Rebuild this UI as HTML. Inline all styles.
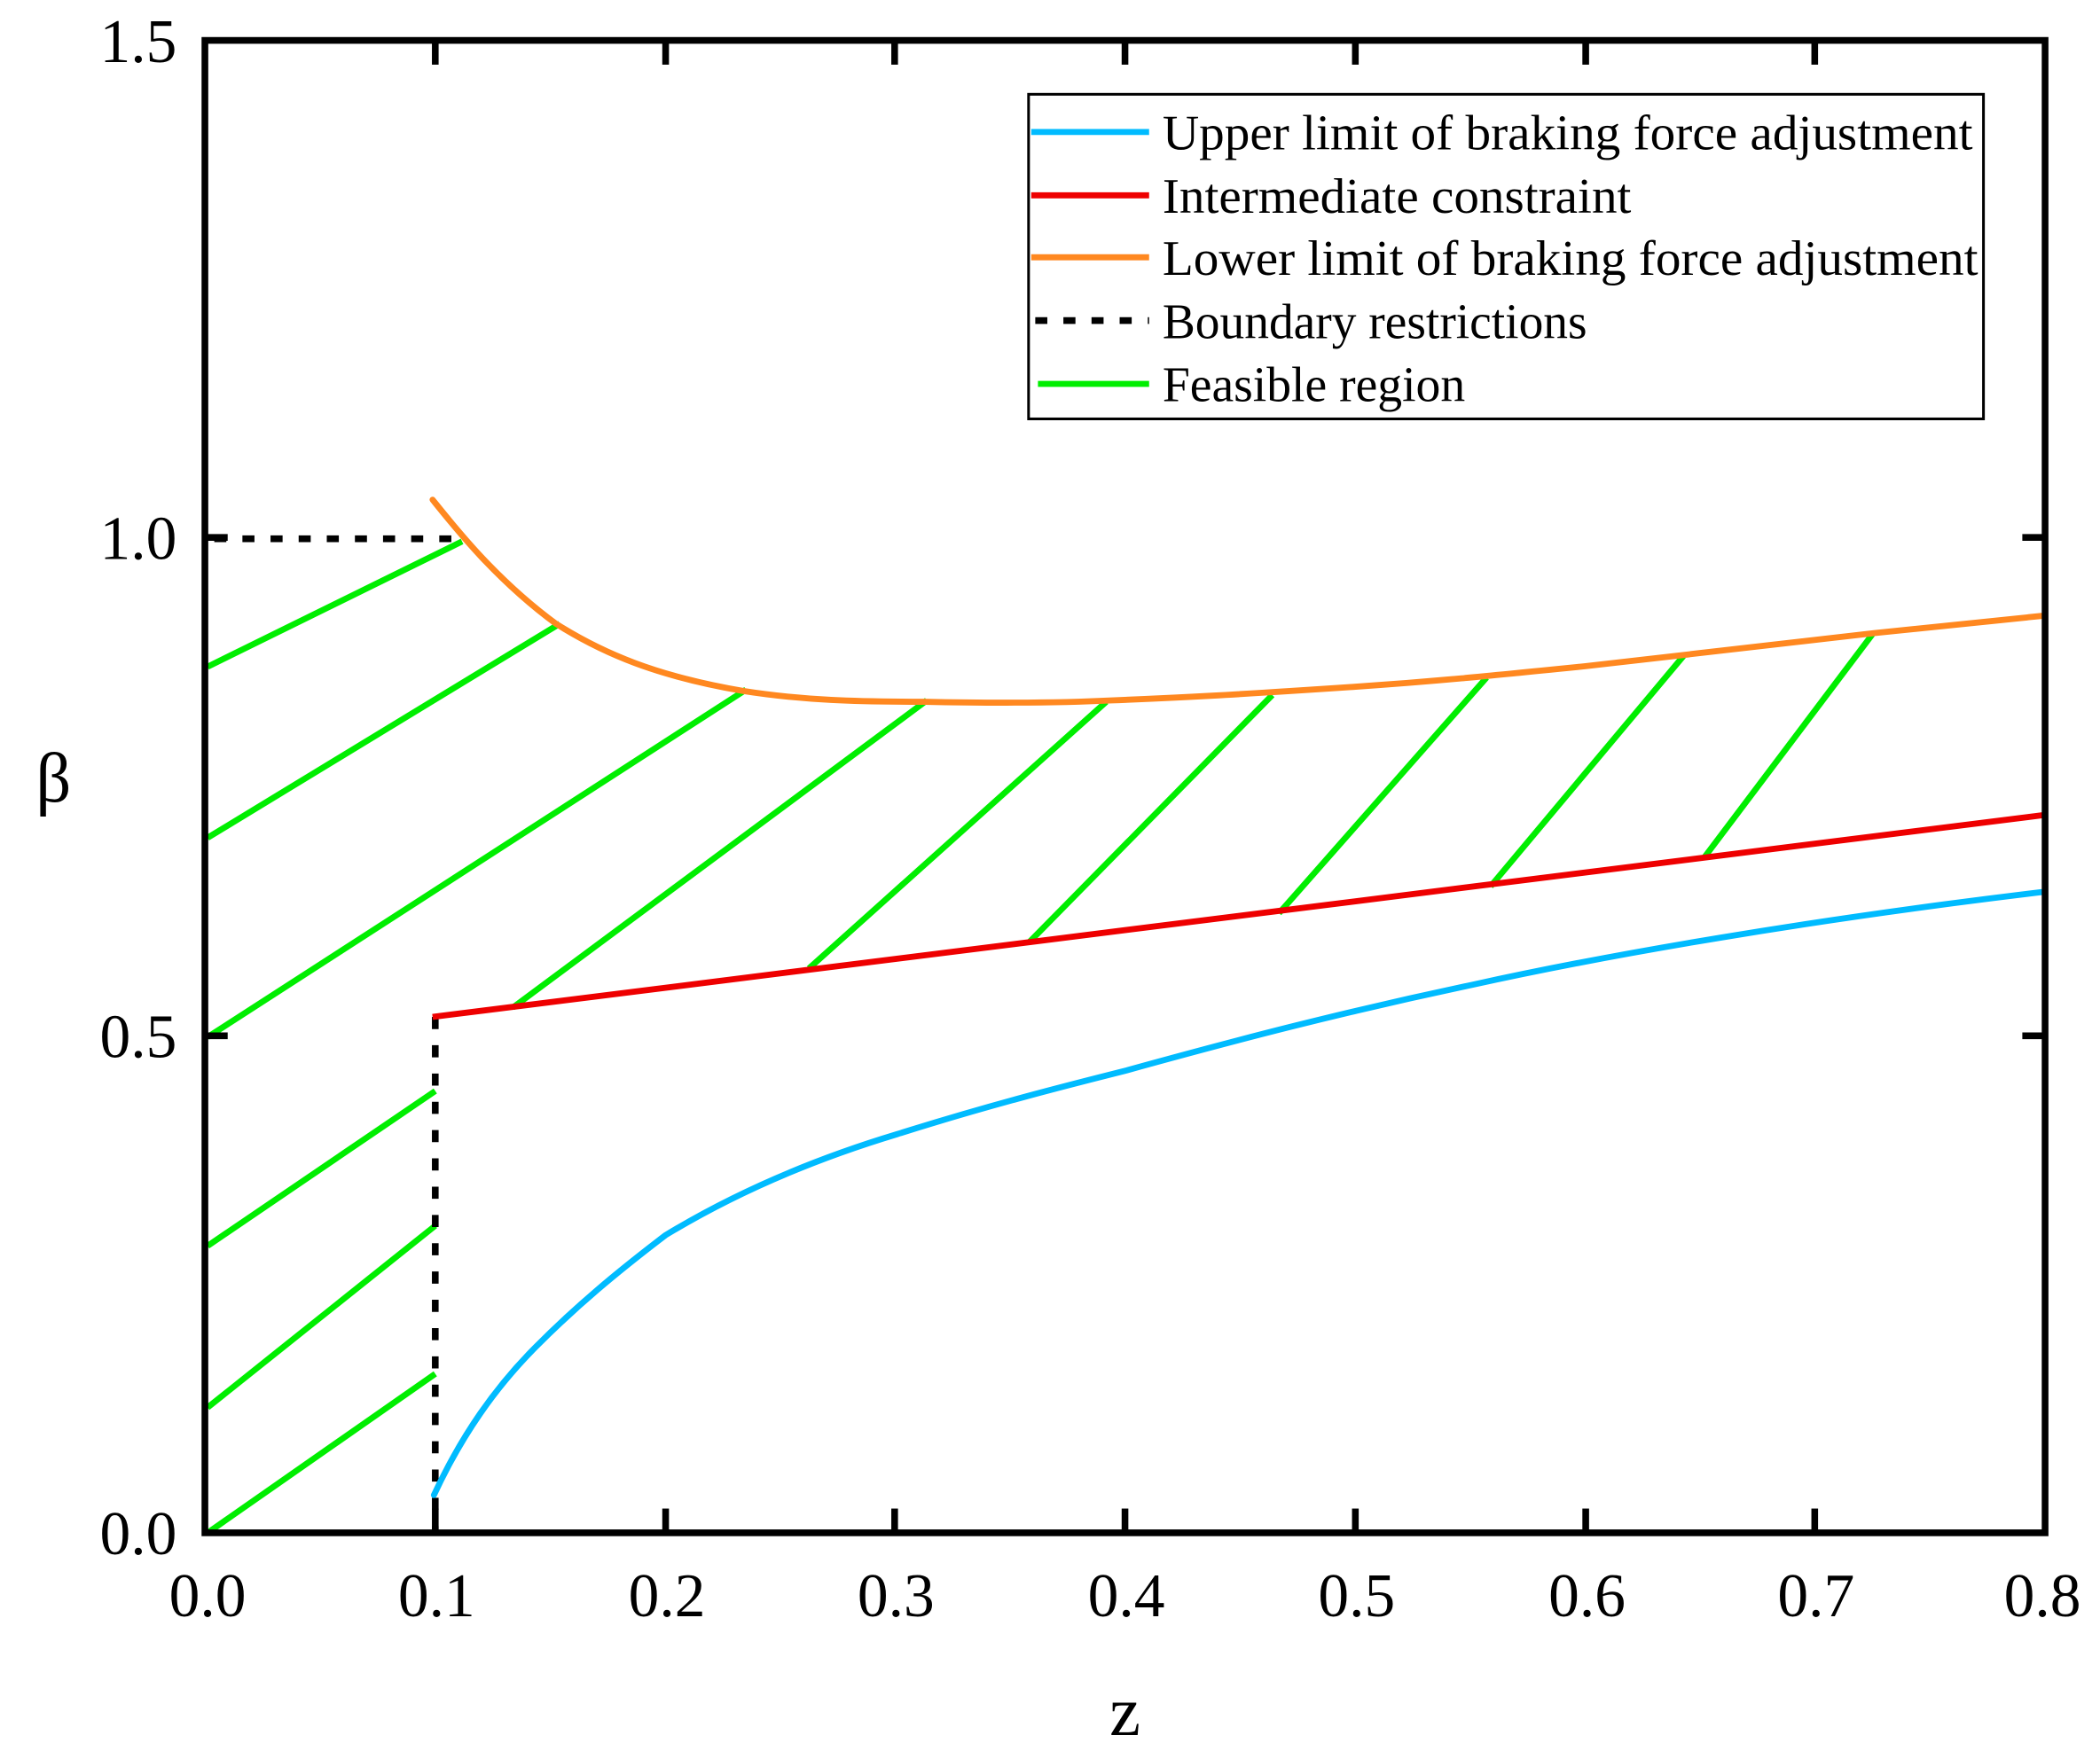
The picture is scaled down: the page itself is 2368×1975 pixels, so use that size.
<!DOCTYPE html>
<html><head><meta charset="utf-8"><style>
html,body{margin:0;padding:0;background:#fff;}
svg{display:block;}
text{font-family:"Liberation Serif",serif;fill:#000;}
</style></head><body>
<svg width="2368" height="1975" viewBox="0 0 1568 1300" preserveAspectRatio="none">
<rect width="1568" height="1300" fill="#fff"/>
<g stroke="#00ee00" stroke-width="4.5" fill="none">
<line x1="155" y1="495" x2="345" y2="402"/>
<line x1="155" y1="622" x2="418" y2="463"/>
<line x1="155" y1="770" x2="557" y2="512"/>
<line x1="383" y1="748" x2="692" y2="520"/>
<line x1="604" y1="719" x2="826" y2="521"/>
<line x1="769" y1="699" x2="950" y2="516"/>
<line x1="955" y1="678" x2="1110" y2="503"/>
<line x1="1113" y1="658" x2="1257" y2="487"/>
<line x1="1273" y1="636" x2="1398" y2="471"/>
<line x1="155" y1="925" x2="325" y2="810"/>
<line x1="155" y1="1045" x2="325" y2="910"/>
<line x1="155" y1="1138" x2="325" y2="1020"/>
</g>
<g stroke="#000" stroke-width="5" stroke-dasharray="9,12" fill="none">
<line x1="160" y1="400" x2="345" y2="400"/>
<line x1="325" y1="755" x2="325" y2="1138"/>
</g>
<line x1="323" y1="755" x2="1527" y2="605" stroke="#ee0000" stroke-width="4.5"/>
<path d="M324,1110 C345,1065 370,1030 400,1000 C430,970 460,945 497,917 C550,885 610,860 670,842 C740,820 800,805 840,795 C920,773 1000,752 1100,731 C1200,709 1350,683 1527,662" stroke="#00bbff" stroke-width="4.5" fill="none" stroke-linecap="round"/>
<path d="M323,371 C340,392 370,430 415,463 C450,485 490,502 555,513 C600,520 640,521 690,521 C740,522 790,522 830,520 C880,518 920,516 1010,510 C1070,506 1110,502 1180,495 C1255,487 1330,478 1400,470 C1450,465 1490,461 1527,457" stroke="#ff8820" stroke-width="4.5" fill="none" stroke-linecap="round"/>
<rect x="153" y="30" width="1374" height="1108" fill="none" stroke="#000" stroke-width="5"/>
<g stroke="#000" stroke-width="5">
<line x1="153" y1="399" x2="170" y2="399"/><line x1="153" y1="769" x2="170" y2="769"/>
<line x1="1527" y1="399" x2="1510" y2="399"/><line x1="1527" y1="769" x2="1510" y2="769"/>
<line x1="325" y1="1138" x2="325" y2="1120"/><line x1="497" y1="1138" x2="497" y2="1120"/>
<line x1="668" y1="1138" x2="668" y2="1120"/><line x1="840" y1="1138" x2="840" y2="1120"/>
<line x1="1012" y1="1138" x2="1012" y2="1120"/><line x1="1184" y1="1138" x2="1184" y2="1120"/>
<line x1="1355" y1="1138" x2="1355" y2="1120"/>
<line x1="325" y1="30" x2="325" y2="48"/><line x1="497" y1="30" x2="497" y2="48"/>
<line x1="668" y1="30" x2="668" y2="48"/><line x1="840" y1="30" x2="840" y2="48"/>
<line x1="1012" y1="30" x2="1012" y2="48"/><line x1="1184" y1="30" x2="1184" y2="48"/>
<line x1="1355" y1="30" x2="1355" y2="48"/>
</g>
<g font-size="46" text-anchor="end">
<text x="132" y="46">1.5</text><text x="132" y="415">1.0</text>
<text x="132" y="785">0.5</text><text x="132" y="1154">0.0</text>
</g>
<g font-size="46" text-anchor="middle">
<text x="155" y="1200">0.0</text><text x="326" y="1200">0.1</text><text x="498" y="1200">0.2</text>
<text x="669" y="1200">0.3</text><text x="841" y="1200">0.4</text><text x="1013" y="1200">0.5</text>
<text x="1185" y="1200">0.6</text><text x="1356" y="1200">0.7</text><text x="1525" y="1200">0.8</text>
</g>
<text x="840" y="1288" font-size="52" text-anchor="middle">z</text>
<text x="40" y="595" font-size="52" text-anchor="middle">β</text>
<rect x="768" y="70" width="713" height="241" fill="#fff" stroke="#000" stroke-width="2"/>
<g stroke-width="4.5">
<line x1="770" y1="98" x2="858" y2="98" stroke="#00bbff"/>
<line x1="770" y1="145" x2="858" y2="145" stroke="#ee0000"/>
<line x1="770" y1="191" x2="858" y2="191" stroke="#ff8820"/>
<line x1="773" y1="238" x2="858" y2="238" stroke="#000" stroke-width="5" stroke-dasharray="9,12"/>
<line x1="775" y1="285" x2="858" y2="285" stroke="#00ee00"/>
</g>
<g font-size="37">
<text x="868" y="111" textLength="605" lengthAdjust="spacingAndGlyphs">Upper limit of braking force adjustment</text>
<text x="868" y="158" textLength="350" lengthAdjust="spacingAndGlyphs">Intermediate constraint</text>
<text x="868" y="204" textLength="609" lengthAdjust="spacingAndGlyphs">Lower limit of braking force adjustment</text>
<text x="868" y="251" textLength="317" lengthAdjust="spacingAndGlyphs">Boundary restrictions</text>
<text x="868" y="298" textLength="226" lengthAdjust="spacingAndGlyphs">Feasible region</text>
</g>
</svg>
</body></html>
